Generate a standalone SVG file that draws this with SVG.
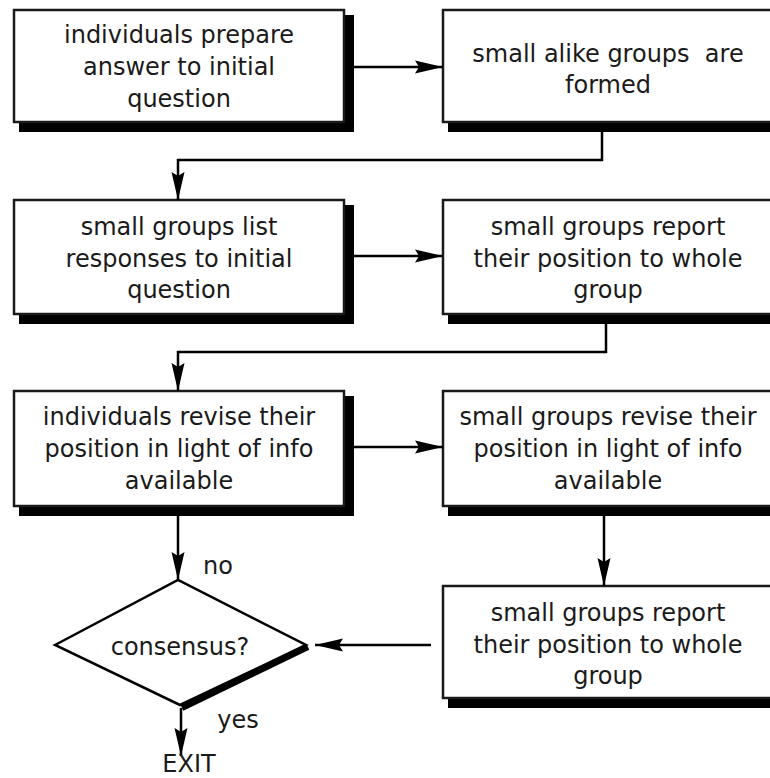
<svg xmlns="http://www.w3.org/2000/svg" width="770" height="778" viewBox="0 0 770 778">
<style>
.box{fill:#fff;stroke:#1a1a1a;stroke-width:2.5}
.sh{fill:#000}
.t{font-family:"DejaVu Sans",sans-serif;font-size:24px;fill:#1a1a1a;text-anchor:middle}
.c{fill:none;stroke:#000;stroke-width:2.5}
</style>
<defs>
<marker id="ah" markerUnits="userSpaceOnUse" markerWidth="30" markerHeight="14" refX="28" refY="6.5" orient="auto" viewBox="0 0 30 13">
<path d="M0,0 L28,6.5 L0,13 L4,6.5 Z" fill="#000"/>
</marker>
</defs>
<rect width="770" height="778" fill="#fff"/>
<g id="n1">
<rect class="sh" x="19" y="15" width="335" height="117"/>
<rect class="box" x="14" y="10" width="330" height="112"/>
<text class="t" x="179" y="43">individuals prepare</text>
<text class="t" x="179" y="75">answer to initial</text>
<text class="t" x="179" y="107">question</text>
</g>
<g id="n2">
<rect class="sh" x="448" y="15" width="335" height="117"/>
<rect class="box" x="443" y="10" width="330" height="112"/>
<text class="t" x="608" y="62" xml:space="preserve">small alike groups  are</text>
<text class="t" x="608" y="93">formed</text>
</g>
<g id="n3">
<rect class="sh" x="19" y="205" width="335" height="119"/>
<rect class="box" x="14" y="200" width="330" height="114"/>
<text class="t" x="179" y="235">small groups list</text>
<text class="t" x="179" y="267">responses to initial</text>
<text class="t" x="179" y="298">question</text>
</g>
<g id="n4">
<rect class="sh" x="448" y="205" width="335" height="119"/>
<rect class="box" x="443" y="200" width="330" height="114"/>
<text class="t" x="608" y="235">small groups report</text>
<text class="t" x="608" y="267">their position to whole</text>
<text class="t" x="608" y="298">group</text>
</g>
<g id="n5">
<rect class="sh" x="19" y="396" width="335" height="120"/>
<rect class="box" x="14" y="391" width="330" height="115"/>
<text class="t" x="179" y="425">individuals revise their</text>
<text class="t" x="179" y="457">position in light of info</text>
<text class="t" x="179" y="489">available</text>
</g>
<g id="n6">
<rect class="sh" x="448" y="396" width="335" height="120"/>
<rect class="box" x="443" y="391" width="330" height="115"/>
<text class="t" x="608" y="425">small groups revise their</text>
<text class="t" x="608" y="457">position in light of info</text>
<text class="t" x="608" y="489">available</text>
</g>
<g id="n7">
<rect class="sh" x="448" y="591" width="335" height="117"/>
<rect class="box" x="443" y="586" width="330" height="112"/>
<text class="t" x="608" y="621">small groups report</text>
<text class="t" x="608" y="653">their position to whole</text>
<text class="t" x="608" y="684">group</text>
</g>
<g id="decision">
<line x1="308" y1="647" x2="182" y2="708" stroke="#000" stroke-width="6"/>
<polygon points="55,645 178,580 306,645 180,705" fill="#fff" stroke="#000" stroke-width="2.5" stroke-linejoin="miter"/>
<text class="t" x="180" y="655">consensus?</text>
</g>
<g id="connectors">
<line class="c" x1="354" y1="67" x2="443" y2="67" marker-end="url(#ah)"/>
<path class="c" d="M602,132 V160 H178 V200" marker-end="url(#ah)"/>
<line class="c" x1="354" y1="256" x2="443" y2="256" marker-end="url(#ah)"/>
<path class="c" d="M606,324 V352 H178 V391" marker-end="url(#ah)"/>
<line class="c" x1="354" y1="447" x2="443" y2="447" marker-end="url(#ah)"/>
<line class="c" x1="604" y1="516" x2="604" y2="586" marker-end="url(#ah)"/>
<line class="c" x1="431" y1="645" x2="315" y2="645" marker-end="url(#ah)"/>
<line class="c" x1="178" y1="516" x2="178" y2="580" marker-end="url(#ah)"/>
<line class="c" x1="181" y1="708" x2="181" y2="756" marker-end="url(#ah)"/>
</g>
<g id="labels">
<text class="t" x="218" y="574">no</text>
<text class="t" x="238" y="728">yes</text>
<text class="t" x="189" y="772" font-size="22">EXIT</text>
</g>
</svg>
